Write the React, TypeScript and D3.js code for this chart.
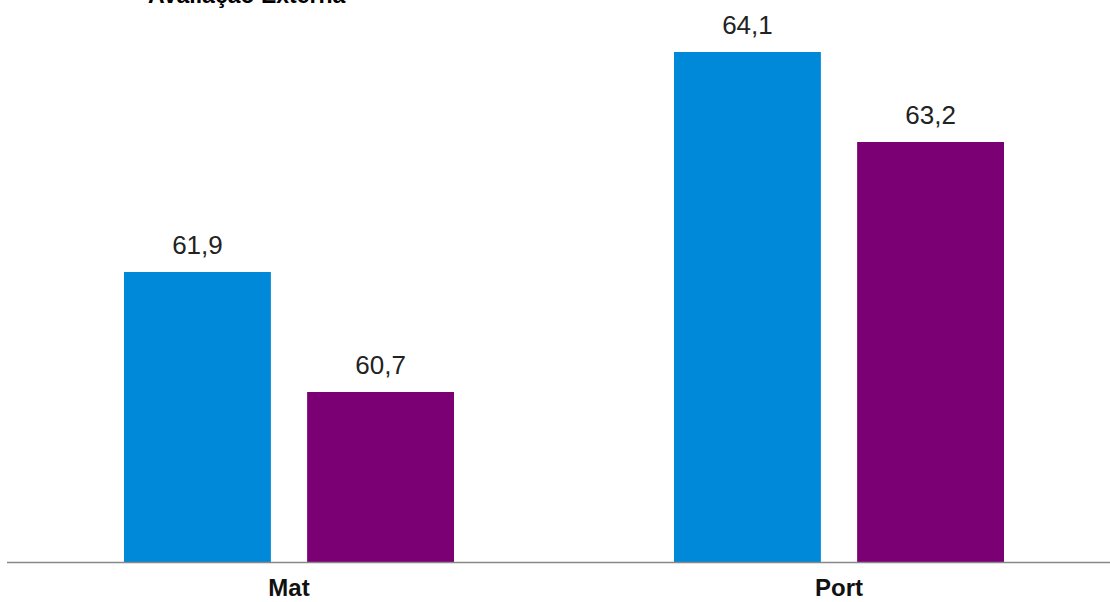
import React from "react";
import * as d3 from "d3";

const categories = ["Mat", "Port"];
const series = ["Série 1", "Série 2"];
const values: number[][] = [
  [61.9, 60.7],
  [64.1, 63.2],
];
const colors = ["#0089D9", "#7B0074"];
const title = "Avaliação Externa";

const W = 1110;
const H = 602;

export default function App() {
  const x = d3.scaleBand<string>().domain(categories).range([14, 1114]).paddingInner(0).paddingOuter(0);
  const groupW = 330;
  const inner = d3.scaleBand<string>().domain(series).range([0, groupW]).paddingInner(0.198).paddingOuter(0);
  const y = d3.scaleLinear().domain([59, 64.62]).range([562, 0]);
  const fmt = (v: number) => d3.format(".1f")(v).replace(".", ",");

  return (
    <svg width={W} height={H} style={{ position: "absolute", left: 0, top: 0, background: "#fff" }}>
      <text x={148} y={3} fontFamily="Liberation Sans, Arial, sans-serif" fontWeight="bold" fontSize={23} fill="#000">
        {title}
      </text>
      {categories.map((c, ci) => {
        const gx = (x(c) as number) + (x.bandwidth() - groupW) / 2;
        return (
          <g key={c}>
            {series.map((s, si) => {
              const v = values[ci][si];
              const bx = gx + (inner(s) as number);
              const by = y(v);
              return (
                <g key={s}>
                  <rect x={bx} y={by} width={inner.bandwidth()} height={y(59) - by} fill={colors[si]} />
                  <text
                    x={bx + inner.bandwidth() / 2}
                    y={by - 18}
                    textAnchor="middle"
                    fontFamily="Liberation Sans, Arial, sans-serif"
                    fontSize={26}
                    fill="#222"
                  >
                    {fmt(v)}
                  </text>
                </g>
              );
            })}
            <text
              x={(x(c) as number) + x.bandwidth() / 2}
              y={596}
              textAnchor="middle"
              fontFamily="Liberation Sans, Arial, sans-serif"
              fontWeight="bold"
              fontSize={24}
              fill="#111"
            >
              {c}
            </text>
          </g>
        );
      })}
      <line x1={7} x2={W} y1={562.5} y2={562.5} stroke="#888" strokeWidth={1.5} />
    </svg>
  );
}
